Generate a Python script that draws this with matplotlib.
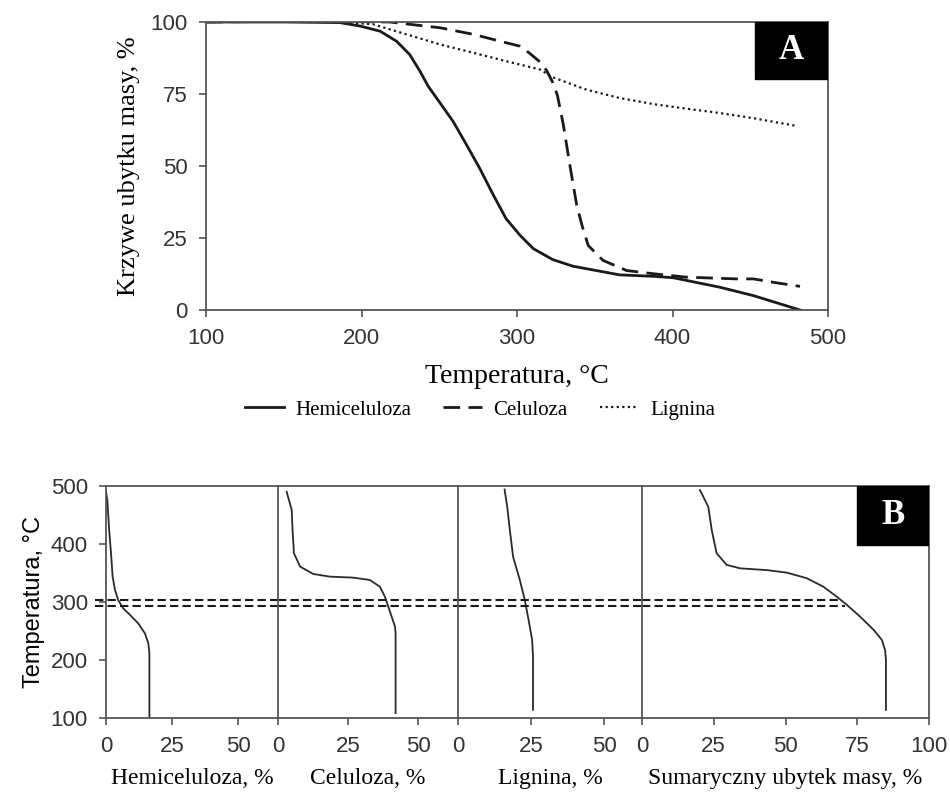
import matplotlib.pyplot as plt
from matplotlib.patches import Rectangle

# --- panel A: mass loss curves (T in degC, remaining mass in %)
hemi_t = [100, 150, 186, 199, 212, 222.6, 231, 237.6, 243, 250.5, 259, 267.6, 276, 284.8, 293, 302,
          310.5, 323, 336, 347, 366, 387.6, 400.5, 430.5, 452, 482]
hemi_m = [100, 100, 99.8, 98.6, 96.8, 93.3, 88.7, 82.9, 77.6, 71.9, 65.4, 57.3, 49.2, 39.9, 31.7, 25.9,
          21.3, 17.5, 15.2, 14.1, 12.2, 11.7, 11.2, 7.9, 5.0, 0]
cel_t = [100, 150, 200, 218, 250.5, 272, 293, 302, 308, 314, 319, 323, 326, 329.8, 334, 338.4, 342,
         345.8, 355.4, 370.5, 387.6, 409, 441, 452, 465, 482]
cel_m = [100, 100.2, 100.1, 100, 98.0, 95.7, 92.8, 91.6, 89.2, 86.5, 83.2, 79.0, 74.5, 64.3, 50.3,
         36.4, 29.0, 22.4, 17.2, 13.7, 12.6, 11.4, 10.8, 10.8, 9.6, 8.2]
lig_t = [100, 150, 186, 207.6, 229, 250.5, 272, 293, 314.8, 323, 344.7, 366, 387.6, 409, 430.5, 452,
         480]
lig_m = [100, 100.2, 100, 99.2, 95.7, 92.2, 89.3, 86.4, 83.5, 80.8, 76.5, 73.6, 71.5, 69.9, 68.4,
         66.6, 63.9]

# --- panel B: fractions (%) vs temperature (degC)
b_hemi_x = [16.4, 16.4, 16.0, 14.7, 12.2, 9.1, 6.5, 4.6, 3.4, 2.5, 1.9, 1.2, 0.5, 0]
b_hemi_t = [100, 211.5, 228.7, 246, 263, 277.6, 289, 303.4, 320.7, 343.7, 384, 424, 476, 490]
b_cel_x = [42.0, 42.0, 41.8, 40.6, 39.4, 38.2, 36.4, 32.8, 26.9, 18.6, 12.6, 7.9, 5.7, 5.2, 4.9, 3.1]
b_cel_t = [108.6, 246, 257.4, 274.7, 292, 309, 326.4, 338, 342, 343.7, 348.3, 361, 384, 424, 458.6,
           490]
b_lig_x = [25.6, 25.6, 25.3, 24.1, 22.8, 21.1, 18.8, 17.7, 16.8, 15.9]
b_lig_t = [114, 205.7, 234.5, 269, 303.4, 338, 378, 424, 464, 494]
b_sum_x = [85.0, 85.0, 84.7, 83.6, 80.7, 76.0, 71.4, 67.9, 63.2, 57.4, 50.5, 43.5, 34.2, 29.5, 26.0,
           24.3, 23.1, 20.2]
b_sum_t = [114, 200, 217, 234.5, 252, 274.7, 295, 309, 326.4, 341, 350.6, 355, 358, 364, 384, 424,
           464, 493]
b_levels = [303, 293]
b_level_ends = [69.0, 70.8]

b_xlims = [65, 64.3, 62.8, 100]
b_xlabels = ['Hemiceluloza, %', 'Celuloza, %', 'Lignina, %', 'Sumaryczny ubytek masy, %']

serif = 'Liberation Serif'
sans = 'Liberation Sans'
spine_c = '#555555'
tick_c = '#333333'
line_c = '#1a1a1a'

W, H = 950, 792
fig = plt.figure(figsize=(9.5, 7.92), dpi=100)


def box(l, r, t, b):
    return [l / W, 1 - b / H, (r - l) / W, (b - t) / H]


def style(ax):
    for s in ax.spines.values():
        s.set_color(spine_c)
        s.set_linewidth(1.3)
    ax.tick_params(direction='out', length=5, width=1.2, color=spine_c,
                   labelsize=16, labelcolor=tick_c, pad=8)
    for lab in ax.get_xticklabels() + ax.get_yticklabels():
        lab.set_fontfamily(sans)


# ---------------- A
axA = fig.add_axes(box(206, 828, 22, 310))
axA.plot(hemi_t, hemi_m, color=line_c, lw=2, label='Hemiceluloza')
axA.plot(cel_t, cel_m, color=line_c, lw=2, ls=(0, (6, 3)), label='Celuloza')
axA.plot(lig_t, lig_m, color=line_c, lw=1.6, ls=(0, (1, 1.5)), label='Lignina')
axA.set_xlim(100, 500)
axA.set_ylim(0, 100)
axA.set_xticks([100, 200, 300, 400, 500])
axA.set_yticks([0, 25, 50, 75, 100])
style(axA)
axA.set_xlabel('Temperatura, °C', family=serif, fontsize=20, labelpad=11)
axA.set_ylabel('Krzywe ubytku masy, %', family=serif, fontsize=19, labelpad=8)
axA.add_patch(Rectangle((1 - 73 / 622, 1 - 57 / 288), 73 / 622, 57 / 288,
                        transform=axA.transAxes, color='black', zorder=5))
axA.text(1 - 36.5 / 622, 1 - 28.5 / 288, 'A', transform=axA.transAxes, ha='center', va='center',
         color='white', family=serif, fontsize=25, fontweight='bold', zorder=6)
axA.legend(loc='center', bbox_to_anchor=(480 / W, 1 - 410 / H), bbox_transform=fig.transFigure,
           ncol=3, frameon=False, prop={'family': serif, 'size': 15}, handlelength=1.85,
           columnspacing=1.55, handletextpad=0.55)

# ---------------- B
edges = [106, 278, 458, 642, 929]
curves = [(b_hemi_x, b_hemi_t), (b_cel_x, b_cel_t), (b_lig_x, b_lig_t), (b_sum_x, b_sum_t)]
axes_b = []
for i in range(4):
    ax = fig.add_axes(box(edges[i], edges[i + 1], 486, 718))
    axes_b.append(ax)
    x, t = curves[i]
    ax.plot(x, t, color='#2a2a2a', lw=1.3)
    ax.set_xlim(0, b_xlims[i])
    ax.set_ylim(100, 500)
    ax.set_xticks([0, 25, 50] if i < 3 else [0, 25, 50, 75, 100])
    ax.set_yticks([100, 200, 300, 400, 500])
    style(ax)
    if i > 0:
        ax.tick_params(axis='y', left=False, labelleft=False)
    if i < 3:
        ax.spines['right'].set_visible(False)
    ax.set_xlabel(b_xlabels[i], family=serif, fontsize=17, labelpad=8)
    # dashed temperature levels
    for lev, end in zip(b_levels, b_level_ends):
        if i == 0:
            ax.plot([-4, b_xlims[0]], [lev, lev], color=line_c, lw=1.5, ls=(0, (4, 2)), clip_on=False)
        elif i < 3:
            ax.plot([0, b_xlims[i]], [lev, lev], color=line_c, lw=1.5, ls=(0, (4, 2)))
        else:
            ax.plot([0, end], [lev, lev], color=line_c, lw=1.5, ls=(0, (4, 2)))

axes_b[0].set_ylabel('Temperatura, °C', family=sans, fontsize=17, labelpad=4)
ax4 = axes_b[3]
ax4.add_patch(Rectangle((1 - 72 / 287, 1 - 59 / 232), 72 / 287, 59 / 232,
                        transform=ax4.transAxes, color='black', zorder=5))
ax4.text(1 - 36 / 287, 1 - 29.5 / 232, 'B', transform=ax4.transAxes, ha='center', va='center',
         color='white', family=serif, fontsize=25, fontweight='bold', zorder=6)

fig.savefig('out.png', dpi=100)
